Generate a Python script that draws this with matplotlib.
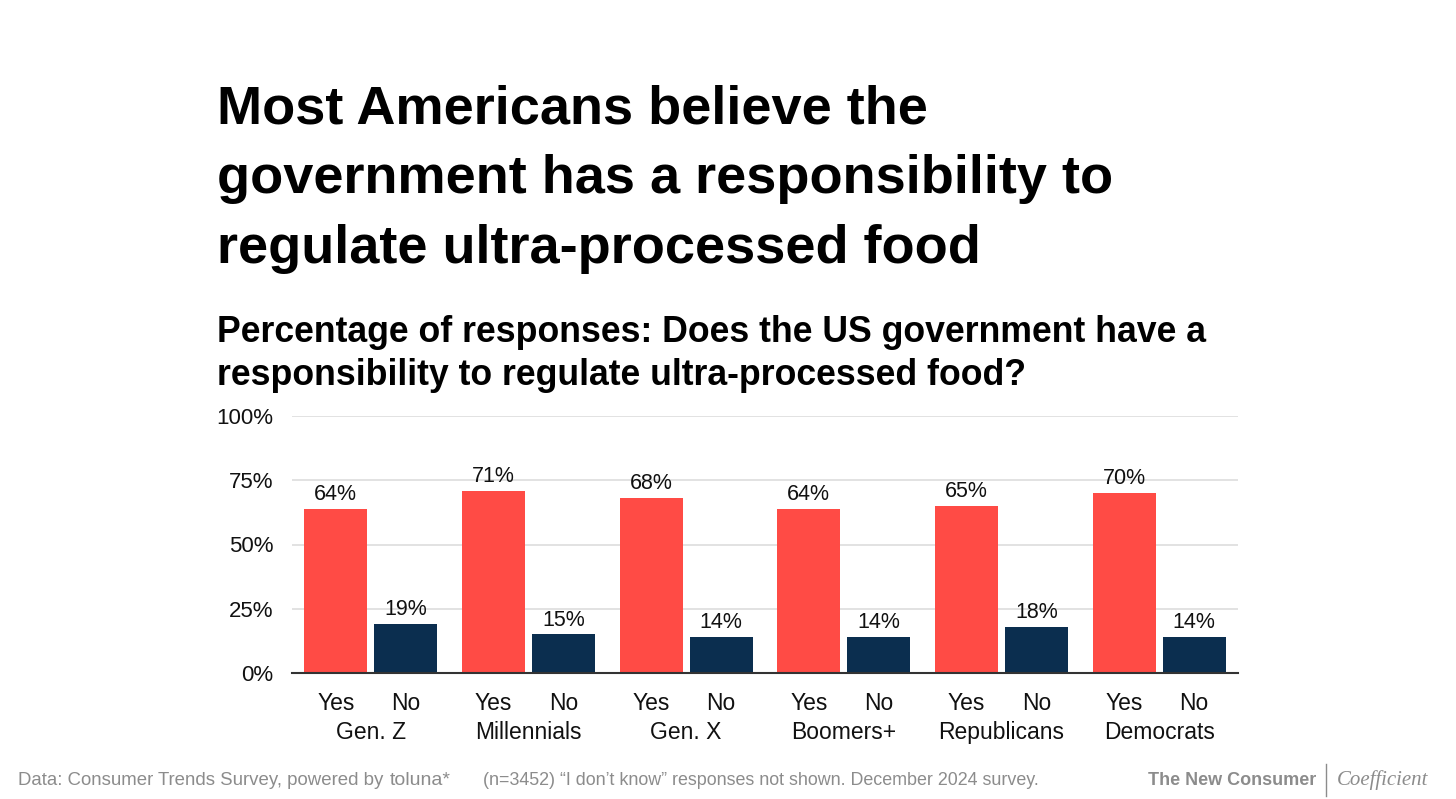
import numpy as np
import matplotlib
matplotlib.use("Agg")
from matplotlib import pyplot as plt

groups = ["Gen. Z", "Millennials", "Gen. X", "Boomers+", "Republicans", "Democrats"]
yes_vals = [64, 71, 68, 64, 65, 70]
no_vals = [19, 15, 14, 14, 18, 14]
yticks = [0, 25, 50, 75, 100]

RED = "#FF4B45"
NAVY = "#0B2E4F"
W, H = 1456, 799

plt.rcParams['font.family'] = ['Liberation Sans', 'DejaVu Sans']

fig = plt.figure(figsize=(W / 100, H / 100), dpi=100)


def px(x, y):
    return x / W, 1 - y / H


# axes placed in pixel space: left 292, right 1238, 0% at 673, 100% at 416
ax = fig.add_axes([292 / W, 1 - 673 / H, (1238 - 292) / W, (673 - 416) / H])

x = np.arange(len(groups))
off = 0.222
bw = 0.40
ax.bar(x - off, yes_vals, bw, color=RED, zorder=3)
ax.bar(x + off, no_vals, bw, color=NAVY, zorder=3)

for xi, v in zip(x, yes_vals):
    ax.text(xi - off, v + 1.5, f"{v}%", ha="center", va="bottom", fontsize=15.5, color="#111")
for xi, v in zip(x, no_vals):
    ax.text(xi + off, v + 1.5, f"{v}%", ha="center", va="bottom", fontsize=15.5, color="#111")

ax.set_xlim(-0.5, len(groups) - 0.5)
ax.set_ylim(0, 100)
ax.set_yticks(yticks)
ax.set_yticklabels([f"{t}%" for t in yticks], fontsize=16, color="#111")
ax.tick_params(axis="y", length=0, pad=13.5)
ax.grid(axis="y", color="#dddddd", linewidth=1.2, zorder=0)
for s in ["top", "right", "left"]:
    ax.spines[s].set_visible(False)
ax.spines["bottom"].set_color("#333333")
ax.spines["bottom"].set_linewidth(1.5)
ax.spines["bottom"].set_zorder(4)

# two-level x labels
ticks = np.concatenate([x - off, x + off])
labels = ["Yes"] * len(groups) + ["No"] * len(groups)
ax.set_xticks(ticks)
ax.set_xticklabels(labels, fontsize=16.5, color="#111")
ax.tick_params(axis="x", length=0, pad=13.5)
for xi, g in zip(x, groups):
    ax.annotate(g, xy=(xi, 0), xycoords=("data", "axes fraction"), xytext=(0, -34.5),
                textcoords="offset points", ha="center", va="top", fontsize=16.5, color="#111")

# titles
title_lines = ["Most Americans believe the",
               "government has a responsibility to",
               "regulate ultra-processed food"]
for i, line in enumerate(title_lines):
    fig.text(*px(217, 123 + i * 70), line, fontsize=39, fontweight="bold", color="#000",
             ha="left", va="baseline")

sub_lines = ["Percentage of responses: Does the US government have a",
             "responsibility to regulate ultra-processed food?"]
for i, line in enumerate(sub_lines):
    fig.text(*px(217, 342 + i * 43), line, fontsize=25.7, fontweight="bold", color="#000",
             ha="left", va="baseline")

# footer
GRAY = "#8c8c8c"
fig.text(*px(18, 785), "Data: Consumer Trends Survey, powered by", fontsize=13.4, color=GRAY,
         ha="left", va="baseline")
fig.text(*px(390, 785), "toluna*", fontsize=14, color=GRAY, ha="left", va="baseline")
fig.text(*px(483, 785), "(n=3452) \u201cI don\u2019t know\u201d responses not shown. December 2024 survey.",
         fontsize=12.9, color=GRAY, ha="left", va="baseline")
fig.text(*px(1316, 785), "The New Consumer", fontsize=13, color=GRAY, fontweight="bold",
         ha="right", va="baseline")
fig.add_artist(plt.Line2D([1326 / W, 1326 / W], [1 - 764 / H, 1 - 796 / H], color=GRAY, linewidth=1))
fig.text(*px(1337, 785), "Coefficient", fontsize=15, color=GRAY, family="Liberation Serif",
         style="italic", ha="left", va="baseline")

fig.savefig("out.png", dpi=100, facecolor="white")
